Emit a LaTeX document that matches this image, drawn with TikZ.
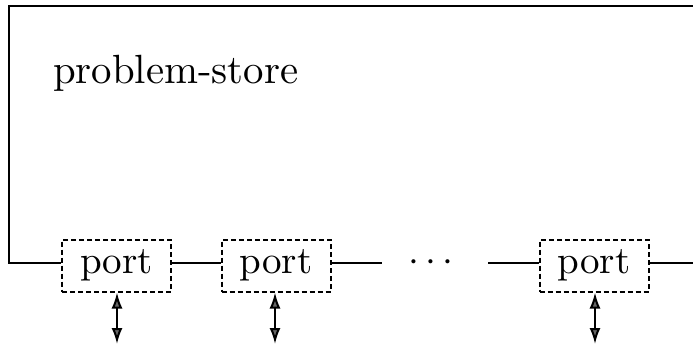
\documentclass[tikz,border=0pt]{standalone}
\usetikzlibrary{arrows.meta}
\begin{document}
\begin{tikzpicture}[x=1pt,y=-1pt,line width=2.2pt,
  portbox/.style={draw,dashed,line width=2pt,dash pattern=on 5pt off 3pt,minimum width=109pt,minimum height=52pt,inner sep=0pt},
  io/.style={{Latex[length=16pt,width=11pt,fill=black!60]}-{Latex[length=16pt,width=11pt,fill=black!60]},line width=2pt}]
\useasboundingbox (0,0) rectangle (693,349);
\node[anchor=base west,inner sep=0pt] (title) at (52,83) {\scalebox{4.08}{problem-store}};
\node[portbox] (p1) at (116.5,265.5) {\raisebox{-0.5ex}{\scalebox{3.9}{port}}};
\node[portbox] (p2) at (276,265.5) {\raisebox{-0.5ex}{\scalebox{3.9}{port}}};
\node[portbox] (p3) at (594,265.5) {\raisebox{-0.5ex}{\scalebox{3.9}{port}}};
\node[inner sep=0pt] (dots) at (431,263) {\scalebox{3.9}{$\cdots$}};
\coordinate (tr) at (693,6);
\coordinate (tl) at (9,6);
\coordinate (bl) at (9,263);
\coordinate (er) at (693,263);
\coordinate (m1) at (382,263);
\coordinate (m2) at (488,263);
\draw (tr) -- (tl) -- (bl) -- (p1.west |- bl);
\draw (p1.east |- bl) -- (p2.west |- bl);
\draw (p2.east |- bl) -- (m1);
\draw (m2) -- (p3.west |- bl);
\draw (p3.east |- bl) -- (er);
\coordinate (a1) at (117,344);
\coordinate (a2) at (275,344);
\coordinate (a3) at (595,344);
\draw[io] (p1.south -| a1) -- (a1);
\draw[io] (p2.south -| a2) -- (a2);
\draw[io] (p3.south -| a3) -- (a3);
\end{tikzpicture}
\end{document}
